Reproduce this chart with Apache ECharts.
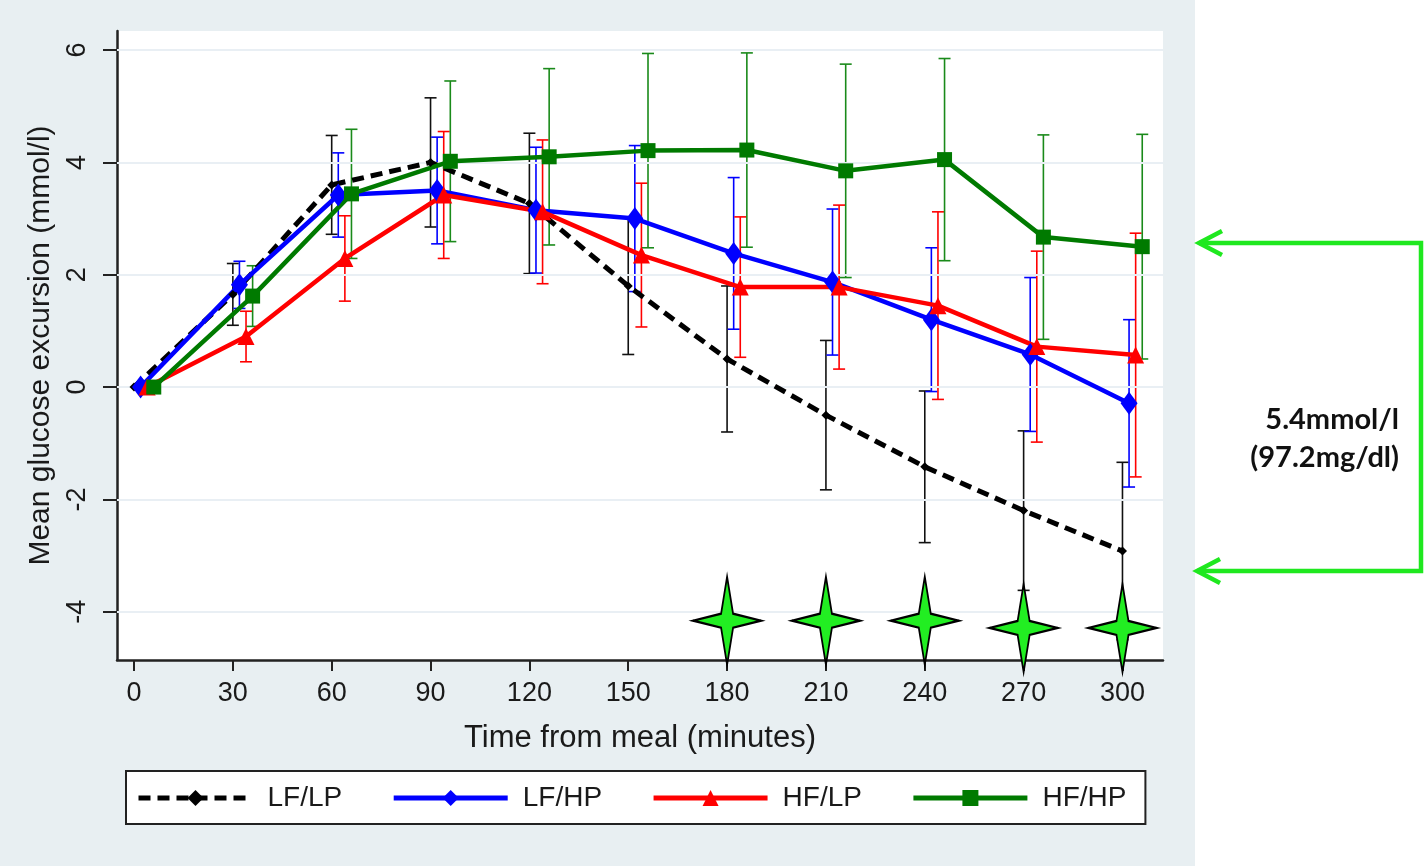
<!DOCTYPE html>
<html>
<head>
<meta charset="utf-8">
<script src="https://cdn.jsdelivr.net/npm/echarts@6/dist/echarts.min.js"></script>
<style>
html,body{margin:0;padding:0;background:#ffffff;}
#chart{width:1427px;height:866px;}
</style>
</head>
<body>
<div id="chart"></div>
<script>
// ---------- data ----------
const times = [0, 30, 60, 90, 120, 150, 180, 210, 240, 270, 300];
const xTicks = [0, 30, 60, 90, 120, 150, 180, 210, 240, 270, 300];
const yTicks = [-4, -2, 0, 2, 4, 6];
const seriesNames = ['LF/LP', 'LF/HP', 'HF/LP', 'HF/HP'];
const timeOffsets = [0, 2, 4, 6]; // horizontal jitter in minutes, per series

const lflpMean = [0, 1.65, 3.6, 4.0, 3.27, 1.8, 0.5, -0.5, -1.42, -2.2, -2.92];
const lflpErr  = [0, 0.55, 0.88, 1.15, 1.25, 1.22, 1.3, 1.33, 1.35, 1.42, 1.58];

const lfhpMean = [0, 1.82, 3.42, 3.5, 3.15, 3.0, 2.38, 1.87, 1.2, 0.58, -0.29];
const lfhpErr  = [0, 0.42, 0.75, 0.95, 1.12, 1.3, 1.35, 1.3, 1.28, 1.37, 1.49];

const hflpMean = [0, 0.9, 2.29, 3.42, 3.12, 2.35, 1.78, 1.78, 1.45, 0.72, 0.57];
const hflpErr  = [0, 0.45, 0.76, 1.13, 1.28, 1.28, 1.25, 1.46, 1.67, 1.7, 2.17];

const hfhpMean = [0, 1.62, 3.44, 4.02, 4.1, 4.21, 4.22, 3.85, 4.05, 2.67, 2.5];
const hfhpErr  = [0, 0.54, 1.15, 1.43, 1.57, 1.73, 1.73, 1.9, 1.8, 1.82, 2.0];

// significance stars
const starTimes  = [180, 210, 240, 270, 300];
const starValues = [-4.16, -4.16, -4.16, -4.29, -4.29];

const annotationLines = ['5.4mmol/l', '(97.2mg/dl)'];

// ---------- chart ----------
const FONT = '"Liberation Sans", Arial, sans-serif';
const means = [lflpMean, lfhpMean, hflpMean, hfhpMean];
const errs = [lflpErr, lfhpErr, hflpErr, hfhpErr];
const colors = ['#000000', '#0000ff', '#ff0000', '#007a00'];
const errColors = ['#111111', '#0000ff', '#ff0000', '#1a8a1a'];
const symbols = ['diamond', 'diamond', 'triangle', 'rect'];
const symbolSizes = [9, [17, 23], 17, 15];

const chart = echarts.init(document.getElementById('chart'), null, {renderer: 'canvas'});

const series = [];
// faint horizontal gridlines
series.push({
  type: 'line', data: [], silent: true, z: 0,
  markLine: {
    silent: true, symbol: 'none', animation: false,
    label: {show: false},
    lineStyle: {color: '#e9eff4', width: 2, type: 'solid'},
    data: yTicks.map(v => ({yAxis: v}))
  }
});
// error bars
means.forEach((m, si) => {
  const data = [];
  times.forEach((t, i) => {
    if (errs[si][i] > 0) data.push([t + timeOffsets[si], m[i] - errs[si][i], m[i] + errs[si][i]]);
  });
  series.push({
    type: 'custom', name: seriesNames[si] + ' sd', z: 2, silent: true,
    encode: {x: 0, y: [1, 2]},
    data: data,
    renderItem: function (params, api) {
      const x = api.value(0);
      const top = api.coord([x, api.value(2)]);
      const bot = api.coord([x, api.value(1)]);
      const cw = 6;
      const st = {stroke: errColors[si], lineWidth: 1.6};
      return {
        type: 'group',
        children: [
          {type: 'line', shape: {x1: top[0], y1: top[1], x2: bot[0], y2: bot[1]}, style: st},
          {type: 'line', shape: {x1: top[0] - cw, y1: top[1], x2: top[0] + cw, y2: top[1]}, style: st},
          {type: 'line', shape: {x1: bot[0] - cw, y1: bot[1], x2: bot[0] + cw, y2: bot[1]}, style: st}
        ]
      };
    }
  });
});
// mean lines
means.forEach((m, si) => {
  series.push({
    type: 'line', name: seriesNames[si], z: 5,
    data: times.map((t, i) => [t + timeOffsets[si], m[i]]),
    symbol: symbols[si], symbolSize: symbolSizes[si], showSymbol: true,
    lineStyle: {color: colors[si], width: si === 0 ? 5 : 4.5, type: si === 0 ? [12, 7] : 'solid'},
    itemStyle: {color: colors[si], opacity: 1},
    clip: false
  });
});
// stars
series.push({
  type: 'scatter', name: 'stars', z: 6, silent: true, clip: false,
  data: starTimes.map((t, i) => [t, starValues[i]]),
  symbol: 'path://M0,-44 L6,-7 L34,0 L6,7 L0,44 L-6,7 L-34,0 L-6,-7 Z',
  symbolSize: [68, 88],
  itemStyle: {color: '#22ee22', borderColor: '#000000', borderWidth: 2, opacity: 1}
});

const option = {
  animation: false,
  backgroundColor: '#ffffff',
  textStyle: {fontFamily: FONT},
  graphic: [
    {type: 'rect', z: -100, silent: true, shape: {x: 0, y: 0, width: 1195, height: 866}, style: {fill: '#e8eff2'}},
    {type: 'polyline', z: 100, silent: true, shape: {points: [[1199, 243], [1421, 243], [1421, 571], [1197, 571]]},
      style: {stroke: '#1fe81f', lineWidth: 4.5, fill: null}},
    {type: 'polyline', z: 100, silent: true, shape: {points: [[1222, 231], [1199, 243], [1222, 255]]},
      style: {stroke: '#1fe81f', lineWidth: 4.5, fill: null}},
    {type: 'polyline', z: 100, silent: true, shape: {points: [[1220, 559], [1197, 571], [1220, 583]]},
      style: {stroke: '#1fe81f', lineWidth: 4.5, fill: null}},
    {type: 'text', z: 100, silent: true, x: 1399, y: 420,
      style: {text: annotationLines[0], fill: '#111', font: 'bold 29px Lato, "Open Sans", sans-serif', align: 'right', verticalAlign: 'middle'}},
    {type: 'text', z: 100, silent: true, x: 1399, y: 458,
      style: {text: annotationLines[1], fill: '#111', font: 'bold 29px Lato, "Open Sans", sans-serif', align: 'right', verticalAlign: 'middle'}}
  ],
  grid: {left: 117, right: 264, top: 31, bottom: 206, show: true, backgroundColor: '#ffffff', borderWidth: 0},
  legend: {
    data: seriesNames,
    left: 126, top: 771,
    orient: 'horizontal',
    itemWidth: 114, itemHeight: 20, itemGap: 49,
    padding: [13, 19, 12, 10],
    borderColor: '#222', borderWidth: 2, borderRadius: 0,
    backgroundColor: '#ffffff',
    selectedMode: false,
    lineStyle: {width: 5},
    textStyle: {fontSize: 28, color: '#1a1a1a', fontFamily: FONT, padding: [0, 0, 0, 10]}
  },
  xAxis: {
    type: 'value', min: -5.16, max: 312.3,
    name: 'Time from meal (minutes)', nameLocation: 'middle', nameGap: 63,
    nameTextStyle: {fontSize: 31, color: '#1a1a1a', fontFamily: FONT},
    axisLine: {show: true, onZero: false, lineStyle: {color: '#222', width: 2.5}},
    axisTick: {show: true, length: 11, customValues: xTicks, lineStyle: {color: '#222', width: 2}},
    axisLabel: {customValues: xTicks, fontSize: 27, color: '#1a1a1a', margin: 20, fontFamily: FONT},
    splitLine: {show: false}
  },
  yAxis: {
    type: 'value', min: -4.86, max: 6.34,
    name: 'Mean glucose excursion (mmol/l)', nameLocation: 'middle', nameGap: 51,
    nameTextStyle: {fontSize: 30, color: '#1a1a1a', fontFamily: FONT},
    axisLine: {show: true, onZero: false, lineStyle: {color: '#222', width: 2.5}},
    axisTick: {show: true, length: 14, customValues: yTicks, lineStyle: {color: '#222', width: 2}},
    axisLabel: {customValues: yTicks, rotate: 90, fontSize: 27, color: '#1a1a1a', margin: 26, fontFamily: FONT},
    splitLine: {show: false}
  },
  series: series
};
chart.setOption(option);
</script>
</body>
</html>
